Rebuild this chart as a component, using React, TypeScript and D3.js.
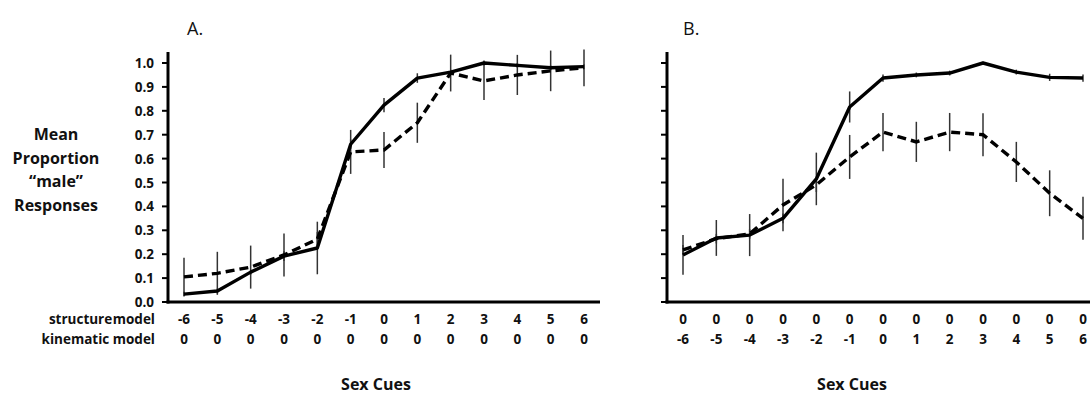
import React from "react";
import * as d3 from "d3";

const cues = [-6, -5, -4, -3, -2, -1, 0, 1, 2, 3, 4, 5, 6];
const yTicks = [0, 0.1, 0.2, 0.3, 0.4, 0.5, 0.6, 0.7, 0.8, 0.9, 1.0];

const aStructureRow = ["-6", "-5", "-4", "-3", "-2", "-1", "0", "1", "2", "3", "4", "5", "6"];
const aKinematicRow = ["0", "0", "0", "0", "0", "0", "0", "0", "0", "0", "0", "0", "0"];
const bStructureRow = ["0", "0", "0", "0", "0", "0", "0", "0", "0", "0", "0", "0", "0"];
const bKinematicRow = ["-6", "-5", "-4", "-3", "-2", "-1", "0", "1", "2", "3", "4", "5", "6"];

const aSolid = [0.033, 0.046, 0.125, 0.192, 0.226, 0.66, 0.824, 0.937, 0.962, 1.0, 0.99, 0.98, 0.985];
const aSolidErr = [0.01, 0.01, 0.01, 0.02, 0.11, 0.02, 0.03, 0.02, 0.01, 0.01, 0.01, 0.01, 0.01];
const aDashed = [0.105, 0.12, 0.146, 0.197, 0.263, 0.628, 0.636, 0.75, 0.958, 0.925, 0.95, 0.967, 0.98];
const aDashedErr = [0.08, 0.09, 0.09, 0.09, 0.03, 0.092, 0.075, 0.084, 0.077, 0.08, 0.084, 0.085, 0.077];

const bSolid = [0.197, 0.268, 0.28, 0.35, 0.515, 0.816, 0.937, 0.95, 0.958, 1.0, 0.962, 0.94, 0.937];
const bSolidErr = [0.083, 0.075, 0.088, 0.02, 0.11, 0.065, 0.015, 0.01, 0.01, 0.005, 0.01, 0.015, 0.015];
const bDashed = [0.218, 0.265, 0.285, 0.406, 0.49, 0.607, 0.711, 0.67, 0.711, 0.7, 0.586, 0.455, 0.35];
const bDashedErr = [0.02, 0.02, 0.02, 0.11, 0.03, 0.092, 0.08, 0.084, 0.08, 0.09, 0.084, 0.096, 0.09];

const FONT = "'Open Sans', 'DejaVu Sans', sans-serif";
const SMALL = 13.5;

type PanelProps = {
  axisX: number;
  axisEnd: number;
  x0: number;
  x1: number;
  title: string;
  titleX: number;
  cueLabelX: number;
  solid: number[];
  solidErr: number[];
  dashed: number[];
  dashedErr: number[];
  row1: string[];
  row2: string[];
  showYLabels: boolean;
};

const yScale = d3.scaleLinear().domain([0, 1]).range([302, 63]);

function Panel(p: PanelProps) {
  const x = d3.scaleLinear().domain([-6, 6]).range([p.x0, p.x1]);
  const line = d3
    .line<number>()
    .x((_, i) => x(cues[i]))
    .y((d) => yScale(d));
  const yBase = yScale(0);
  return (
    <g>
      <text x={p.titleX} y={35} fontFamily={FONT} fontSize={18} fill="#111">
        {p.title}
      </text>
      {p.dashed.map((v, i) => (
        <line
          key={"de" + i}
          x1={x(cues[i])}
          x2={x(cues[i])}
          y1={yScale(v - p.dashedErr[i])}
          y2={yScale(v + p.dashedErr[i])}
          stroke="#333"
          strokeWidth={1.5}
        />
      ))}
      {p.solid.map((v, i) => (
        <line
          key={"se" + i}
          x1={x(cues[i])}
          x2={x(cues[i])}
          y1={yScale(v - p.solidErr[i])}
          y2={yScale(v + p.solidErr[i])}
          stroke="#333"
          strokeWidth={1.5}
        />
      ))}
      <path d={line(p.dashed) || ""} fill="none" stroke="#000" strokeWidth={3.4} strokeDasharray="9,5" />
      <path d={line(p.solid) || ""} fill="none" stroke="#000" strokeWidth={3.4} strokeLinejoin="round" />
      <line x1={p.axisX} x2={p.axisX} y1={52} y2={yBase + 1.5} stroke="#000" strokeWidth={3} />
      <line x1={p.axisX - 1.5} x2={p.axisEnd} y1={yBase} y2={yBase} stroke="#000" strokeWidth={3} />
      {yTicks.map((t) => (
        <g key={"t" + t}>
          <line x1={p.axisX - 6} x2={p.axisX} y1={yScale(t)} y2={yScale(t)} stroke="#000" strokeWidth={2} />
          {p.showYLabels && (
            <text
              x={p.axisX - 14}
              y={yScale(t) + 5}
              textAnchor="end"
              fontFamily={FONT}
              fontWeight="bold"
              fontSize={SMALL}
              fill="#111"
            >
              {t.toFixed(1)}
            </text>
          )}
        </g>
      ))}
      {cues.map((c, i) => (
        <g key={"r" + i}>
          <text x={x(c)} y={324} textAnchor="middle" fontFamily={FONT} fontWeight="bold" fontSize={SMALL} fill="#111">
            {p.row1[i]}
          </text>
          <text x={x(c)} y={344} textAnchor="middle" fontFamily={FONT} fontWeight="bold" fontSize={SMALL} fill="#111">
            {p.row2[i]}
          </text>
        </g>
      ))}
      <text x={p.cueLabelX} y={390} textAnchor="middle" fontFamily={FONT} fontWeight="bold" fontSize={16} fill="#111">
        Sex Cues
      </text>
    </g>
  );
}

export default function App() {
  return (
    <svg width={1090} height={394} style={{ position: "absolute", left: 0, top: 0, background: "#fff" }}>
      <rect width={1090} height={394} fill="#fff" />
      <g fontFamily={FONT} fontWeight="bold" fontSize={16} fill="#111" textAnchor="middle">
        <text x={56} y={140}>Mean</text>
        <text x={56} y={163.5}>Proportion</text>
        <text x={56} y={187}>“male”</text>
        <text x={56} y={210.5}>Responses</text>
      </g>
      <text x={155} y={324} textAnchor="end" fontFamily={FONT} fontWeight="bold" fontSize={SMALL} fill="#111" wordSpacing={-3}>
        structure model
      </text>
      <text x={155} y={344} textAnchor="end" fontFamily={FONT} fontWeight="bold" fontSize={SMALL} fill="#111">
        kinematic model
      </text>
      <Panel
        axisX={168}
        axisEnd={600}
        x0={184}
        x1={584}
        title="A."
        titleX={187}
        cueLabelX={376}
        solid={aSolid}
        solidErr={aSolidErr}
        dashed={aDashed}
        dashedErr={aDashedErr}
        row1={aStructureRow}
        row2={aKinematicRow}
        showYLabels={true}
      />
      <Panel
        axisX={667}
        axisEnd={1090}
        x0={683}
        x1={1083}
        title="B."
        titleX={683}
        cueLabelX={852}
        solid={bSolid}
        solidErr={bSolidErr}
        dashed={bDashed}
        dashedErr={bDashedErr}
        row1={bStructureRow}
        row2={bKinematicRow}
        showYLabels={false}
      />
    </svg>
  );
}
